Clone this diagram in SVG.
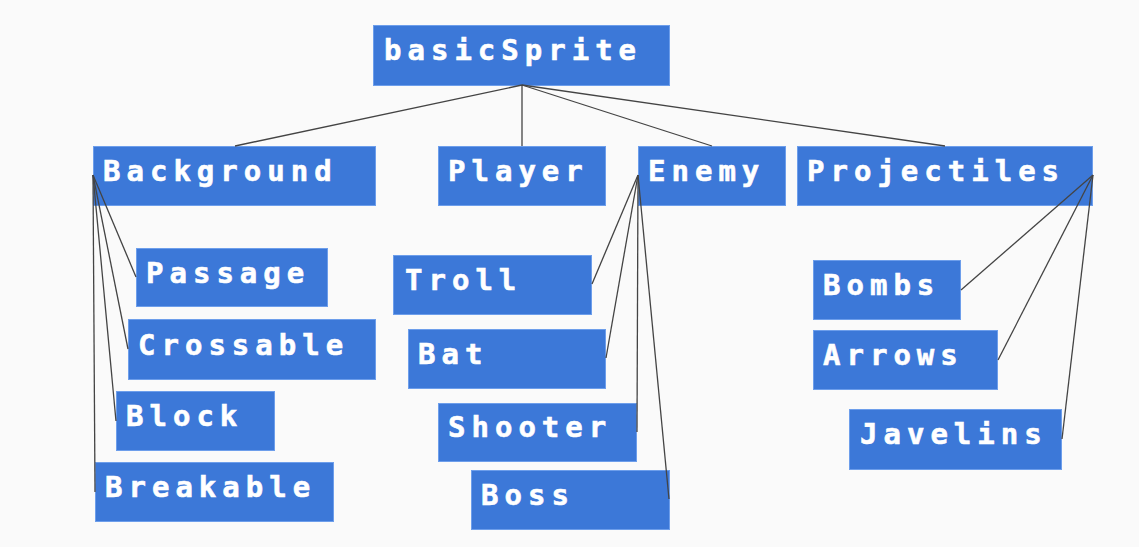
<svg xmlns="http://www.w3.org/2000/svg" width="1139" height="547" viewBox="0 0 1139 547">
<style>
.box{fill:#3c78d8;stroke:#6d9eeb;stroke-width:1}
.lbl{fill:#ffffff;stroke:#ffffff;stroke-width:0.6;font-family:"DejaVu Sans Mono","Liberation Mono",monospace;font-weight:bold;font-size:29px;letter-spacing:6px}
.conn line{stroke:#444444;stroke-width:1.3;fill:none}
</style>
<rect x="0" y="0" width="1139" height="547" fill="#fafafa"/>
<g id="basicSprite"><rect class="box" x="373.5" y="25.5" width="296" height="60"/><text class="lbl" x="384" y="60">basicSprite</text></g>
<g id="Background"><rect class="box" x="93.5" y="146.5" width="282" height="59"/><text class="lbl" x="103" y="181">Background</text></g>
<g id="Player"><rect class="box" x="438.5" y="146.5" width="167" height="59"/><text class="lbl" x="448" y="181">Player</text></g>
<g id="Enemy"><rect class="box" x="638.5" y="146.5" width="147" height="59"/><text class="lbl" x="648" y="181">Enemy</text></g>
<g id="Projectiles"><rect class="box" x="797.5" y="146.5" width="295" height="59"/><text class="lbl" x="807" y="181">Projectiles</text></g>
<g id="Passage"><rect class="box" x="136.5" y="248.5" width="191" height="58"/><text class="lbl" x="146" y="283">Passage</text></g>
<g id="Crossable"><rect class="box" x="128.5" y="319.5" width="247" height="60"/><text class="lbl" x="138" y="355">Crossable</text></g>
<g id="Block"><rect class="box" x="116.5" y="391.5" width="158" height="59"/><text class="lbl" x="126" y="426">Block</text></g>
<g id="Breakable"><rect class="box" x="95.5" y="462.5" width="238" height="59"/><text class="lbl" x="105" y="497">Breakable</text></g>
<g id="Troll"><rect class="box" x="393.5" y="255.5" width="198" height="59"/><text class="lbl" x="405" y="290">Troll</text></g>
<g id="Bat"><rect class="box" x="408.5" y="329.5" width="197" height="59"/><text class="lbl" x="418" y="364">Bat</text></g>
<g id="Shooter"><rect class="box" x="438.5" y="403.5" width="198" height="58"/><text class="lbl" x="448" y="437">Shooter</text></g>
<g id="Boss"><rect class="box" x="471.5" y="470.5" width="198" height="59"/><text class="lbl" x="481" y="505">Boss</text></g>
<g id="Bombs"><rect class="box" x="813.5" y="260.5" width="147" height="59"/><text class="lbl" x="823" y="295">Bombs</text></g>
<g id="Arrows"><rect class="box" x="813.5" y="330.5" width="184" height="59"/><text class="lbl" x="823" y="365">Arrows</text></g>
<g id="Javelins"><rect class="box" x="849.5" y="409.5" width="212" height="60"/><text class="lbl" x="860" y="444">Javelins</text></g>
<g id="connectors" class="conn">
<line x1="522" y1="85" x2="235" y2="146"/>
<line x1="522" y1="85" x2="522" y2="146"/>
<line x1="522" y1="85" x2="712" y2="146"/>
<line x1="522" y1="85" x2="945" y2="146"/>
<line x1="93" y1="175" x2="136" y2="277"/>
<line x1="93" y1="175" x2="128" y2="349"/>
<line x1="93" y1="175" x2="116" y2="421"/>
<line x1="93" y1="175" x2="95" y2="492"/>
<line x1="638" y1="175" x2="592" y2="284"/>
<line x1="638" y1="175" x2="606" y2="358"/>
<line x1="638" y1="175" x2="637" y2="432"/>
<line x1="638" y1="175" x2="669" y2="499"/>
<line x1="1093" y1="175" x2="961" y2="290"/>
<line x1="1093" y1="175" x2="998" y2="360"/>
<line x1="1093" y1="175" x2="1062" y2="439"/>
</g>
</svg>
